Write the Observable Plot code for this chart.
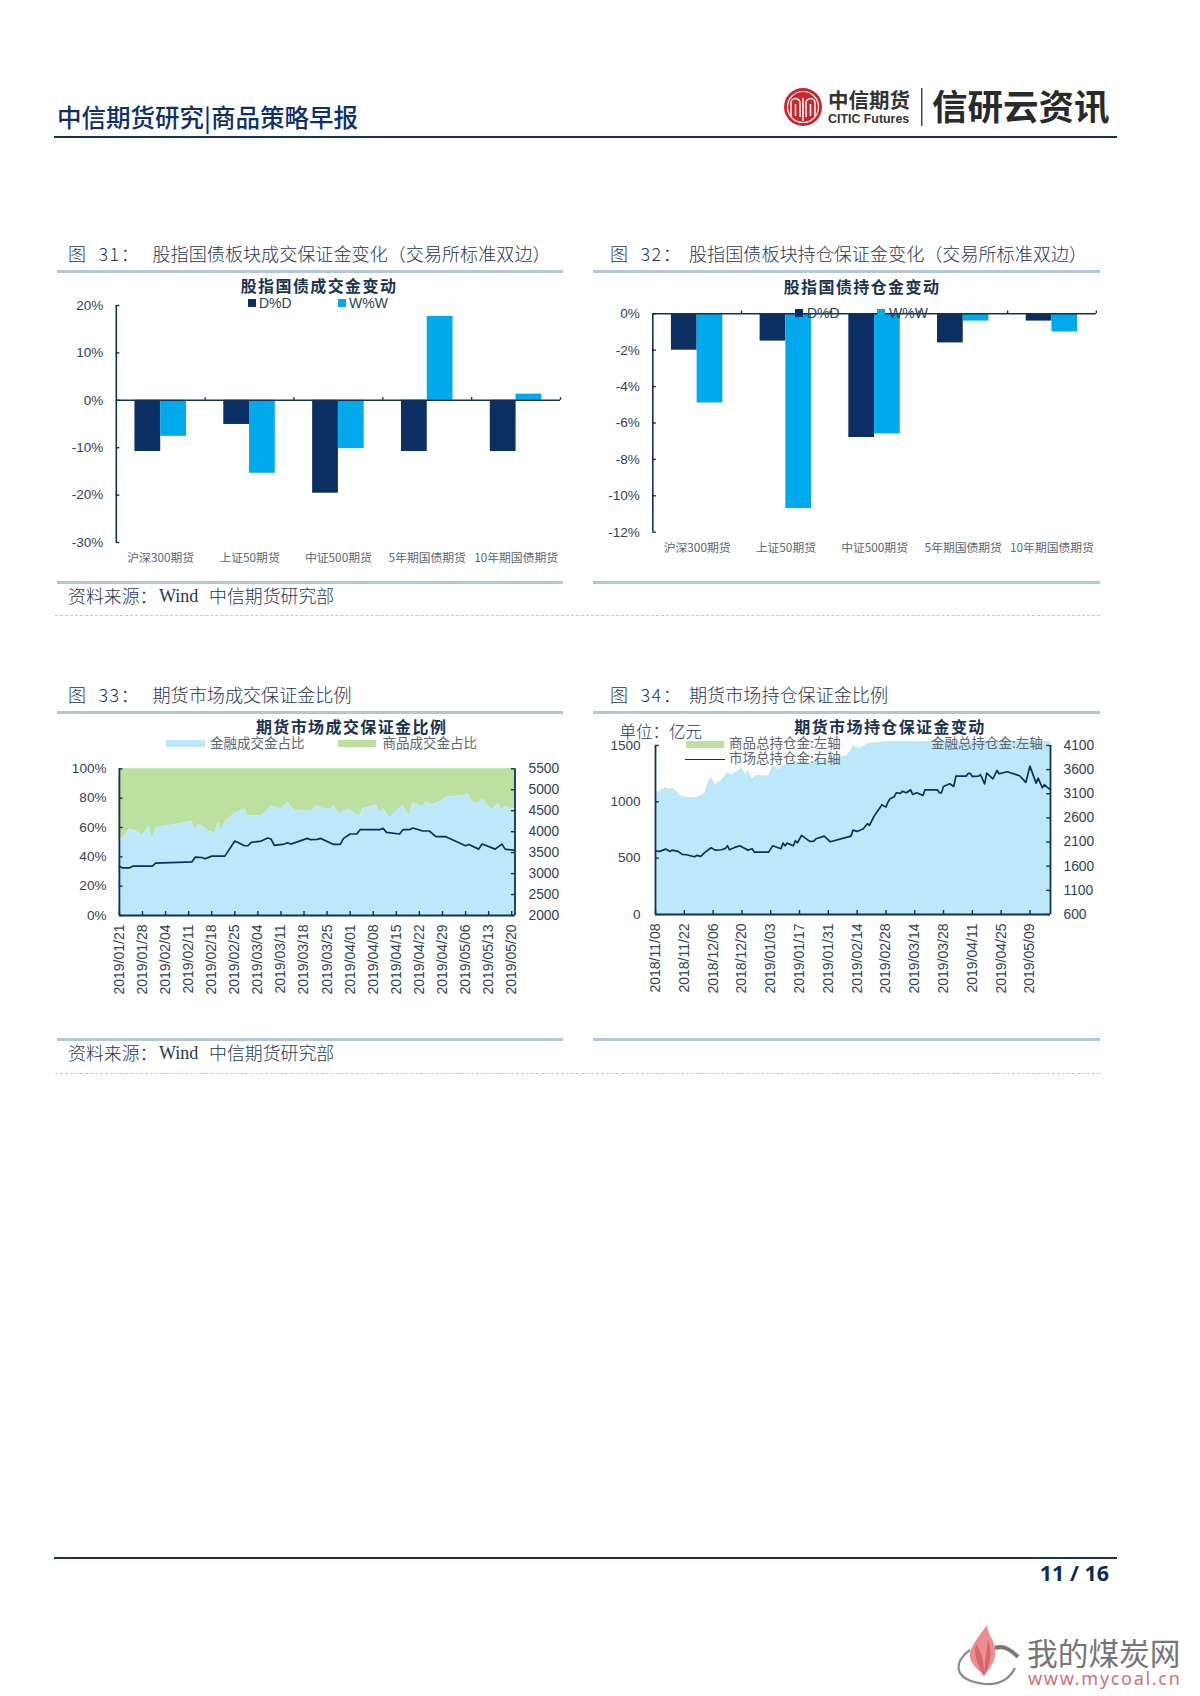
<!DOCTYPE html>
<html lang="zh">
<head>
<meta charset="utf-8">
<script src="https://cdn.jsdelivr.net/npm/d3@7"></script>
<script src="https://cdn.jsdelivr.net/npm/@observablehq/plot@0.6"></script>
<style>
html,body{margin:0;padding:0;background:#fff}
#page{position:relative;width:1200px;height:1696px;overflow:hidden;font-family:"Noto Sans CJK SC","Noto Sans",sans-serif;color:#1f3550}
.t{position:absolute;white-space:nowrap;transform:translateY(-50%);line-height:1}
.r{position:absolute}
.p{position:absolute}
.p svg{overflow:visible;background:transparent}
</style>
</head>
<body>
<div id="page"></div>
<script>
// ---------- chart 31 / 32 ----------
const categories = ["沪深300期货","上证50期货","中证500期货","5年期国债期货","10年期国债期货"];
const tradeDoD = [-10.8,-5.1,-19.6,-10.8,-10.8];
const tradeWoW = [-7.6,-15.4,-10.2,17.7,1.3];
const holdDoD  = [-2.0,-1.5,-6.8,-1.6,-0.4];
const holdWoW  = [-4.9,-10.7,-6.6,-0.4,-1.0];
const tradeTicks = [20,10,0,-10,-20,-30];
const holdTicks  = [0,-2,-4,-6,-8,-10,-12];

// ---------- chart 33 (days since 2019/01/21) ----------
const ticks33 = ["2019/01/21","2019/01/28","2019/02/04","2019/02/11","2019/02/18","2019/02/25","2019/03/04","2019/03/11","2019/03/18","2019/03/25","2019/04/01","2019/04/08","2019/04/15","2019/04/22","2019/04/29","2019/05/06","2019/05/13","2019/05/20"];
const finDays33 = [0,2,3,5,7,9,10,11,22,23,24,26,27,29,30,31,32,34,36,38,39,41,43,45,46,49,51,53,58,60,61,64,65,67,68,70,72,73,74,78,79,80,82,84,86,88,89,92,93,95,97,99,106,107,109,110,113,115,116,117,119,120];
const finShare33 = [51,55.3,58.9,57.6,54.9,60.9,51.9,59.4,64.3,58,62,59.4,57.6,56.2,63.8,57.1,63.8,67.7,71,72.6,67.7,68.1,67.4,71.5,74.4,72.6,77.1,71.5,71,74.9,73.3,72.2,74.9,68.3,71,72.2,68.1,68.3,72.8,75.1,69.9,72.8,66.5,71,75.1,67,76.7,74,77.3,75.5,77.3,80.5,82.3,77.8,76.2,79.6,71.7,76.7,71,74.4,72.8,72.2];
const lineDays33 = [0,1,3,4,10,11,22,23,25,26,28,32,35,38,39,40,43,45,46,47,50,51,52,57,58,60,61,65,67,68,70,72,73,79,80,81,85,86,88,89,92,94,96,99,105,106,109,110,114,116,117,120];
const marketTotal33 = [3176,3136,3136,3176,3176,3248,3280,3392,3384,3352,3416,3416,3776,3664,3664,3744,3776,3848,3824,3672,3704,3736,3704,3840,3808,3816,3840,3696,3696,3840,3944,3944,4048,4048,4080,3984,3944,4048,4048,4088,4016,4016,3880,3880,3664,3696,3584,3704,3584,3704,3584,3552];

// ---------- chart 34 (days since 2018/11/08) ----------
const ticks34 = ["2018/11/08","2018/11/22","2018/12/06","2018/12/20","2019/01/03","2019/01/17","2019/01/31","2019/02/14","2019/02/28","2019/03/14","2019/03/28","2019/04/11","2019/04/25","2019/05/09"];
const finDays34 = [0,2,5,6,9,12,15,20,24,25,27,29,32,35,37,40,42,44,45,47,49,55,57,60,62,67,72,75,82,88,93,95,96,98,100,103,113,192];
const finTotal34 = [1080,1092,1130,1116,1116,1056,1039,1039,1071,1145,1219,1151,1190,1258,1240,1269,1299,1240,1278,1204,1234,1228,1317,1287,1323,1346,1352,1337,1367,1388,1411,1456,1500,1477,1477,1515,1535,1535];
const lineDays34 = [0,2,5,7,8,11,13,15,19,20,22,24,27,29,32,34,35,36,39,41,43,45,47,48,55,57,61,62,63,64,67,68,69,71,75,77,78,82,85,95,96,98,101,103,104,106,109,110,112,113,114,116,117,119,120,122,124,125,127,130,131,137,138,139,140,143,145,146,151,152,153,154,157,158,160,161,164,166,167,171,177,180,182,185,186,188,189,192];
const marketTotal34 = [1913,1906,1954,1906,1933,1906,1844,1837,1795,1823,1802,1885,1982,1933,1940,1968,2023,1940,1996,2023,1975,1933,1961,1892,1892,2023,1961,2078,2023,2078,2023,2127,2085,2237,2113,2120,2168,2223,2106,2223,2347,2320,2375,2479,2444,2617,2803,2872,2823,2927,2996,3037,3120,3106,3148,3120,3182,3086,3120,3065,3182,3182,3120,3120,3251,3307,3251,3465,3465,3520,3520,3458,3465,3493,3306,3527,3410,3582,3513,3555,3472,3334,3672,3320,3424,3224,3286,3182];

const left34 = [0,500,1000,1500];
const right34 = [600,1100,1600,2100,2600,3100,3600,4100];
const left33 = [0,20,40,60,80,100];
const right33 = [2000,2500,3000,3500,4000,4500,5000,5500];

// ---------- colours ----------
const NAVY="#0c2f63", CYAN="#00a9eb", SKY="#bde8f9", GREEN="#bce09f", AXIS="#10305a", LABEL="#2f4258", CAT="#5a6472";
const LATIN='"Liberation Sans",Arial,sans-serif', CJK='"Noto Sans CJK SC","Noto Sans",sans-serif';

const page=document.getElementById("page");
function text(s,x,y,o={}){const d=document.createElement("div");d.className="t";d.textContent=s;
  d.style.left=x+"px";d.style.top=y+"px";Object.assign(d.style,o);page.appendChild(d);return d;}
function rect(x,y,w,h,bg){const d=document.createElement("div");d.className="r";
  Object.assign(d.style,{left:x+"px",top:y+"px",width:w+"px",height:h+"px",background:bg});page.appendChild(d);return d;}
function place(svg,x,y){const d=document.createElement("div");d.className="p";d.style.left=x+"px";d.style.top=y+"px";d.appendChild(svg);page.appendChild(d);}

// ---------- bar charts ----------
function barChart(o,dod,wow,yTicks,yDomain,tickUp,labelPad){
  const rows=(vals,a,b)=>vals.map((v,i)=>({a:i+a,b:i+b,zero:0,v}));
  const fmt=d=>d+"%";
  const svg=Plot.plot({
    width:o.w,height:o.h,marginLeft:o.ml,marginRight:o.mr,marginTop:o.mt,marginBottom:o.mb,
    style:{fontFamily:LATIN,fontSize:"13.5px",color:LABEL,background:"transparent"},
    x:{domain:[0,5],label:null},
    y:{domain:yDomain,label:null},
    marks:[
      Plot.rect(rows(dod,.21,.5),{x1:"a",x2:"b",y1:"zero",y2:"v",fill:NAVY}),
      Plot.rect(rows(wow,.5,.79),{x1:"a",x2:"b",y1:"zero",y2:"v",fill:CYAN}),
      Plot.ruleY([0],{stroke:AXIS,strokeWidth:1.6}),
      Plot.ruleX([0],{y1:yDomain[0],y2:yDomain[1],stroke:AXIS,strokeWidth:1.6}),
      Plot.ruleY(yTicks,{x1:0,x2:0.04,stroke:AXIS,strokeWidth:1.4}),
      Plot.ruleX([1,2,3,4,5],{y1:0,y2:tickUp,stroke:AXIS,strokeWidth:1.4}),
      Plot.axisY(yTicks,{tickSize:0,tickPadding:13,tickFormat:fmt,fontSize:13.5,fontFamily:LATIN}),
      Plot.axisX(categories.map((_,i)=>i+.5),{tickSize:0,tickPadding:labelPad,tickFormat:d=>categories[d-.5],fill:CAT,fontSize:11.8,fontFamily:CJK})
    ]
  });
  place(svg,o.x,o.y);
}
barChart({x:57,y:298,w:510,h:275,ml:58.8,mr:7,mt:7,mb:31},tradeDoD,tradeWoW,tradeTicks,[-30,20],0.55,11);
barChart({x:595,y:305,w:510,h:257,ml:57.3,mr:9.2,mt:8.3,mb:30.3},holdDoD,holdWoW,holdTicks,[-12,0],0.15,11);

// ---------- dual axis charts ----------
const parse=d3.utcParse("%Y/%m/%d"), fmtDate=d3.utcFormat("%Y/%m/%d");
function dualChart(o){
  const start=parse(o.ticks[0]), at=d=>start.getTime()+d*864e5;
  const end=new Date(at(o.endDay));
  const toLeft=d3.scaleLinear(o.rightDomain,o.leftSpan);
  const rows=(days,vals)=>days.map((d,i)=>({t:new Date(at(d)),v:vals[i],zero:0,top:o.leftSpan[1]}));
  const tickDates=o.ticks.map(parse);
  const svg=Plot.plot({
    width:o.w,height:o.h,marginLeft:o.ml,marginRight:o.mr,marginTop:o.mt,marginBottom:o.mb,
    style:{fontFamily:LATIN,fontSize:"13.5px",color:LABEL,background:"transparent"},
    x:{type:"utc",domain:[start,end],label:null},
    y:{domain:[0,o.yMax],label:null},
    marks:[
      ...(o.green?[Plot.areaY(rows(o.areaDays,o.areaVals),{x:"t",y1:"v",y2:"top",fill:GREEN,curve:"linear"})]:[]),
      Plot.areaY(rows(o.areaDays,o.areaVals),{x:"t",y1:"zero",y2:"v",fill:SKY}),
      Plot.lineY(rows(o.lineDays,o.lineVals),{x:"t",y:d=>toLeft(d.v),stroke:NAVY,strokeWidth:1.7}),
      Plot.ruleY([0],{stroke:AXIS,strokeWidth:1.8}),
      Plot.ruleX([start],{y1:0,y2:o.leftSpan[1],stroke:AXIS,strokeWidth:1.8}),
      Plot.ruleX([end],{y1:0,y2:o.leftSpan[1],stroke:AXIS,strokeWidth:1.8}),
      Plot.ruleY(o.leftTicks,{x1:start,x2:new Date(at(o.tickDays)),stroke:AXIS,strokeWidth:1.4}),
      Plot.ruleY(o.rightTicks.map(d=>toLeft(d)),{x1:new Date(at(o.endDay-o.tickDays)),x2:end,stroke:AXIS,strokeWidth:1.4}),
      Plot.ruleX(tickDates,{y1:0,y2:o.tickUp,stroke:AXIS,strokeWidth:1.4}),
      Plot.axisY(o.leftTicks,{tickSize:0,tickPadding:o.padL,tickFormat:o.leftFmt,fontSize:13.5,fontFamily:LATIN}),
      Plot.axisY(o.rightTicks,{anchor:"right",y:toLeft,tickSize:0,tickPadding:o.padR,fontSize:13.8,fontFamily:LATIN,tickFormat:d=>String(d)}),
      Plot.axisX(tickDates,{tickSize:0,tickPadding:9,tickRotate:-90,tickFormat:fmtDate,fontSize:14,fontFamily:LATIN})
    ]
  });
  place(svg,o.x,o.y);
}
dualChart({x:60,y:760,w:520,h:245,ml:58.9,mr:65.5,mt:8.3,mb:90,ticks:ticks33,endDay:120,yMax:100,leftSpan:[0,100],
  rightDomain:[2000,5500],leftTicks:left33,rightTicks:right33,leftFmt:d=>d+"%",green:true,
  areaDays:finDays33,areaVals:finShare33,lineDays:lineDays33,lineVals:marketTotal33,tickDays:1.1,tickUp:2.7,padL:13,padR:13.5});
dualChart({x:600,y:730,w:510,h:274,ml:55,mr:60,mt:11,mb:90,ticks:ticks34,endDay:192,yMax:1535,leftSpan:[0,1500],
  rightDomain:[600,4100],leftTicks:left34,rightTicks:right34,leftFmt:d=>String(d),green:false,
  areaDays:finDays34,areaVals:finTotal34,lineDays:lineDays34,lineVals:marketTotal34,tickDays:1.8,tickUp:35,padL:15,padR:13});

// ---------- page furniture ----------
text("中信期货研究|商品策略早报",57,117,{fontSize:"24.5px",fontWeight:"500",color:"#0e2f6c"});
rect(54,135.5,1063,2,"#14315f");
rect(54,1556.5,1063,2,"#14315f");
text("11 / 16",1109,1573,{fontSize:"21.5px",fontWeight:"700",color:"#0c2a5a",fontFamily:'"Open Sans",sans-serif',transform:"translate(-100%,-50%)"});

// logo and watermark
const logo=document.createElement("div");logo.className="p";logo.style.left="0";logo.style.top="0";
logo.innerHTML=`<svg width="1200" height="1696" style="pointer-events:none">
<circle cx="803" cy="107" r="19" fill="#d0232b"/>
<circle cx="803" cy="107" r="15.5" fill="none" stroke="#fff" stroke-width="1.2"/>
<path d="M791 116V103a4.5 4.5 0 0 1 9 0V117M806 117V103a4.5 4.5 0 0 1 9 0V116M795.5 116V104M810.5 116V104M803 121V98" stroke="#fff" stroke-width="1.5" fill="none"/>
<rect x="921" y="88" width="1.5" height="38" fill="#444"/>
<g fill="none">
<path d="M970 1650C955 1660 950 1680 985 1684C1000 1685 1010 1678 1015 1668" stroke="#8a8a8a" stroke-width="2.2"/>
<path d="M995 1648C1004 1645 1011 1650 1018 1657" stroke="#777" stroke-width="4"/>
<path d="M987 1625C976 1640 968 1650 970 1658C973 1668 982 1672 984 1676C990 1668 997 1660 995 1648C994 1640 988 1635 987 1625Z" fill="#e98f92"/>
<path d="M976 1644C973 1655 978 1665 984 1676C984 1662 982 1652 976 1644Z" fill="#d9656c"/>
<path d="M988 1640C986 1652 985 1664 984 1676C990 1666 993 1652 988 1640Z" fill="#d9656c"/>
</g></svg>`;
page.appendChild(logo);
text("中信期货",828,99,{fontSize:"20.5px",fontWeight:"700",color:"#333"});
text("CITIC Futures",828,118.7,{fontSize:"12.4px",fontWeight:"700",color:"#333",fontFamily:LATIN});
text("信研云资讯",932,105,{fontSize:"35.5px",fontWeight:"700",color:"#2a2a2a"});
text("我的煤炭网",1027,1652,{fontSize:"30.7px",color:"#757575"});
text("www.mycoal.cn",1028,1678,{fontSize:"18px",letterSpacing:"1.7px",color:"#d4707a",fontFamily:'"Noto Sans",sans-serif'});

// section rules & captions
const RULE="#b4c6d9";
[[57,270],[593,270],[57,581],[593,581],[57,711],[593,711],[57,1038],[593,1038]].forEach(([x,y])=>rect(x,y,x===57?506:507,3,RULE));
[615,1073].forEach(y=>{const d=rect(55,y,1045,0,"transparent");d.style.borderTop="1px dashed #b9cbdc";});

const figs=[
 ["图\u00a0\u00a031：",68,"股指国债板块成交保证金变化（交易所标准双边）",152.5,252.5],
 ["图\u00a0\u00a032：",610,"股指国债板块持仓保证金变化（交易所标准双边）",689,252.5],
 ["图\u00a0\u00a033：",68,"期货市场成交保证金比例",152.5,694],
 ["图\u00a0\u00a034：",610,"期货市场持仓保证金比例",689,694]];
figs.forEach(([a,x1,b,x2,y])=>{
  text(a,x1,y,{fontSize:"18px",fontWeight:"300",color:"#1f3550",letterSpacing:"1.5px"});
  text(b,x2,y,{fontSize:"18.1px",fontWeight:"300",color:"#1f3550"});
});
[596,1053].forEach(y=>{
  text("资料来源：",68,y,{fontSize:"17.9px",fontWeight:"300"});
  text("Wind",159,y,{fontSize:"18px",fontFamily:'"Liberation Serif",serif'});
  text("中信期货研究部",209,y,{fontSize:"17.9px",fontWeight:"300"});
});

// chart titles
const ct={fontSize:"16px",fontWeight:"700",letterSpacing:"1.4px",color:"#1b3350",transform:"translate(-50%,-50%)"};
text("股指国债成交金变动",319,284.7,ct);
text("股指国债持仓金变动",862,286.3,ct);
text("期货市场成交保证金比例",351.6,726,ct);
text("期货市场持仓保证金变动",890,726,ct);

// legends
const lg={fontSize:"14px",fontFamily:LATIN,color:"#2b3f55"};
rect(248,298.7,8,8,NAVY);text("D%D",259,302.7,lg);
rect(338,298.7,8,8,CYAN);text("W%W",349,302.7,lg);
rect(795,309,8,8,NAVY);text("D%D",807,313,lg);
rect(877,309,8,8,CYAN);text("W%W",889,313,lg);
const lz={fontSize:"13.5px",color:"#5d6670"};
rect(166,739.5,38.5,7.5,SKY);text("金融成交金占比",210,742.5,lz);
rect(338,739.5,38,7.5,GREEN);text("商品成交金占比",382.6,742.5,lz);
text("单位：亿元",619.6,731,{fontSize:"16.5px",fontWeight:"300"});
rect(686,740.5,38,7,GREEN);text("商品总持仓金:左轴",729,743,lz);
rect(685,758.5,39.5,1.6,NAVY);text("市场总持仓金:右轴",729,758.3,lz);
text("金融总持仓金:左轴",931,743,lz);
</script>
</body>
</html>
